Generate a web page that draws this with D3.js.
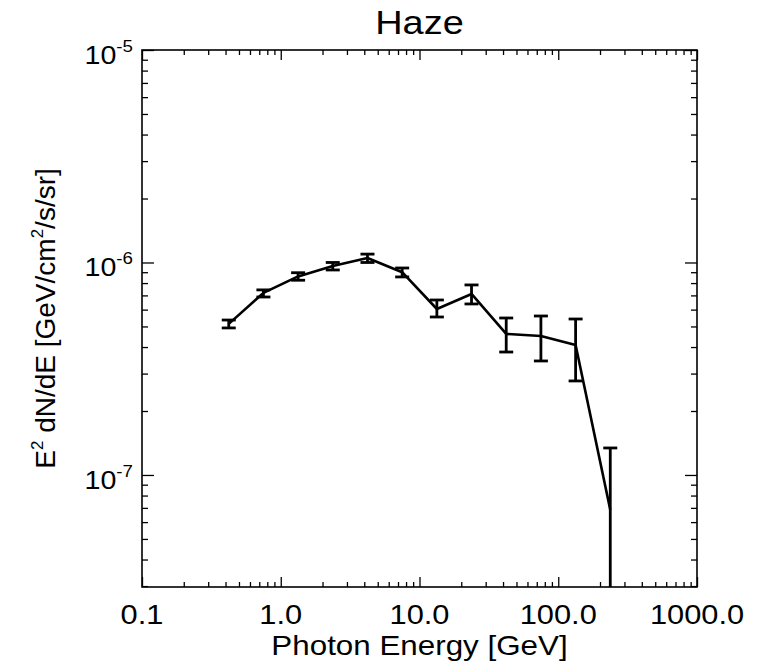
<!DOCTYPE html>
<html lang="en">
<head>
    <meta charset="UTF-8">
    <title>Haze</title>
    <style>
        body { margin: 0; background: #fff; }
        svg text { font-family: "Liberation Sans", Arial, sans-serif; fill: #000; }
    </style>
</head>
<body>
    <div id="chart"></div>
    <script src="https://d3js.org/d3.v7.min.js"></script>
    <script>
        // photon energy bin centres [GeV]
        const energy = [0.422, 0.750, 1.334, 2.371, 4.217, 7.499, 13.34, 23.71, 42.17, 74.99, 133.4, 237.1];
        // E^2 dN/dE [GeV/cm^2/s/sr]
        const flux   = [5.14e-7, 7.19e-7, 8.60e-7, 9.63e-7, 1.05e-6, 9.00e-7, 6.04e-7, 7.11e-7, 4.61e-7, 4.51e-7, 4.09e-7, 6.85e-8];
        const errHi  = [5.36e-7, 7.43e-7, 8.95e-7, 1.00e-6, 1.095e-6, 9.42e-7, 6.66e-7, 7.84e-7, 5.48e-7, 5.60e-7, 5.42e-7, 1.34e-7];
        const errLo  = [4.92e-7, 6.88e-7, 8.25e-7, 9.22e-7, 1.00e-6, 8.55e-7, 5.54e-7, 6.38e-7, 3.79e-7, 3.44e-7, 2.77e-7, 1e-9];

        const xTicks = [0.1, 1, 10, 100, 1000];
        const xTickLabels = ["0.1", "1.0", "10.0", "100.0", "1000.0"];
        const yTicks = [1e-5, 1e-6, 1e-7];
        const yTickExp = ["-5", "-6", "-7"];

        const width = 771, height = 662;
        const m = {left: 142, right: 74, top: 50, bottom: 75};
        const iw = width - m.left - m.right, ih = height - m.top - m.bottom;
        const stretch = 1.1; // the lettering is a little wider than plain Helvetica

        const x = d3.scaleLog().domain([0.1, 1000]).range([0, iw]);
        const y = d3.scaleLog().domain([2.97e-8, 1e-5]).range([ih, 0]);

        const svg = d3.select("#chart").append("svg").attr("width", width).attr("height", height);
        const g = svg.append("g").attr("transform", `translate(${m.left},${m.top})`);

        // minor tick values (2..9 in each decade)
        const xMinor = [];
        for (let d = 0.1; d < 1000; d *= 10) for (let k = 2; k <= 9; k++) xMinor.push(d * k);
        const yMinor = [];
        for (let d = 1e-8; d < 1e-5; d *= 10) for (let k = 2; k <= 9; k++) {
            const v = d * k;
            if (v >= 2.97e-8 && v < 1e-5) yMinor.push(v);
        }

        const tickStyle = sel => sel.call(s => s.select(".domain").remove())
            .selectAll("line").attr("stroke", "#000").attr("stroke-width", 1.3);

        // inward ticks on all four sides
        [[d3.axisBottom(x), `translate(0,${ih})`], [d3.axisTop(x), "translate(0,0)"]].forEach(([ax, tr]) => {
            g.append("g").attr("transform", tr)
                .call(ax.tickValues(xTicks).tickSize(-10).tickFormat(""))
                .call(tickStyle);
            g.append("g").attr("transform", tr)
                .call(ax.tickValues(xMinor).tickSize(-5).tickFormat(""))
                .call(tickStyle);
        });
        [[d3.axisLeft(y), "translate(0,0)"], [d3.axisRight(y), `translate(${iw},0)`]].forEach(([ax, tr]) => {
            g.append("g").attr("transform", tr)
                .call(ax.tickValues(yTicks).tickSize(-12).tickFormat(""))
                .call(tickStyle);
            g.append("g").attr("transform", tr)
                .call(ax.tickValues(yMinor).tickSize(-6).tickFormat(""))
                .call(tickStyle);
        });

        // frame
        g.append("rect").attr("width", iw).attr("height", ih)
            .attr("fill", "none").attr("stroke", "#000").attr("stroke-width", 1.6);

        // x tick labels
        g.selectAll(".xl").data(xTicks).join("text")
            .attr("transform", d => `translate(${x(d)},${ih + 37}) scale(${stretch},1)`)
            .attr("text-anchor", "middle").attr("font-size", 28)
            .text((d, i) => xTickLabels[i]);

        // y tick labels (10 with superscript exponent)
        const yl = g.selectAll(".yl").data(yTicks).join("text")
            .attr("transform", d => `translate(-9,${y(d) + 14}) scale(${stretch},1)`)
            .attr("text-anchor", "end").attr("font-size", 26);
        yl.append("tspan").text("10");
        yl.append("tspan").attr("dy", -12).attr("font-size", 17).text((d, i) => yTickExp[i]);

        // clipped data
        svg.append("clipPath").attr("id", "clip").append("rect").attr("width", iw).attr("height", ih);
        const pg = g.append("g").attr("clip-path", "url(#clip)");

        const pts = energy.map((e, i) => ({e, f: flux[i], hi: errHi[i], lo: errLo[i]}));

        pg.append("path").datum(pts)
            .attr("fill", "none").attr("stroke", "#000").attr("stroke-width", 2.6)
            .attr("stroke-linejoin", "round")
            .attr("d", d3.line().x(d => x(d.e)).y(d => y(d.f)));

        const eb = pg.selectAll(".eb").data(pts).join("g")
            .attr("stroke", "#000").attr("stroke-width", 2.8);
        eb.append("line").attr("x1", d => x(d.e)).attr("x2", d => x(d.e))
            .attr("y1", d => y(d.hi)).attr("y2", d => y(d.lo));
        eb.append("line").attr("x1", d => x(d.e) - 7).attr("x2", d => x(d.e) + 7)
            .attr("y1", d => y(d.hi)).attr("y2", d => y(d.hi));
        eb.append("line").attr("x1", d => x(d.e) - 7).attr("x2", d => x(d.e) + 7)
            .attr("y1", d => y(d.lo)).attr("y2", d => y(d.lo));

        // title and axis labels
        svg.append("text")
            .attr("transform", `translate(${m.left + iw / 2},34) scale(1.15,1)`)
            .attr("text-anchor", "middle").attr("font-size", 33).text("Haze");
        svg.append("text")
            .attr("transform", `translate(${m.left + iw / 2},655) scale(1.12,1)`)
            .attr("text-anchor", "middle").attr("font-size", 28).text("Photon Energy [GeV]");

        const ylab = svg.append("text")
            .attr("transform", `translate(55,${m.top + ih / 2}) rotate(-90)`)
            .attr("text-anchor", "middle").attr("font-size", 28);
        ylab.append("tspan").text("E");
        ylab.append("tspan").attr("dy", -12).attr("font-size", 17).text("2");
        ylab.append("tspan").attr("dy", 12).text(" dN/dE [GeV/cm");
        ylab.append("tspan").attr("dy", -12).attr("font-size", 17).text("2");
        ylab.append("tspan").attr("dy", 12).text("/s/sr]");
    </script>
</body>
</html>
